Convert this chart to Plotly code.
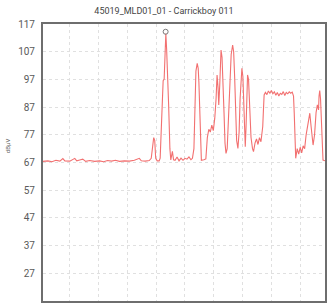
import plotly.graph_objects as go

# Trace samples (x = horizontal sample position, y = level in dBµV), 10 per row
sample_x = [
    0, 5, 9, 13, 17, 20, 22, 27, 32, 34,
    37, 40, 43, 47, 52, 57, 61, 65, 69, 73,
    77, 82, 87, 92, 97, 99, 103, 107, 109, 110.5,
    111.5, 112.5, 113.5, 115, 117, 118, 119, 120, 121, 122,
    122.8, 123.3, 123.7, 124.5, 125.5, 126.5, 127.8, 128.7, 130.3, 131.5,
    133, 135, 137, 139, 141, 143, 145, 147, 149, 150.5,
    152, 153, 154, 155.3, 156.3, 157, 157.8, 158.5, 159.5, 162,
    164, 165.5, 167, 168.5, 170, 171.5, 173, 174.3, 175.3, 176.3,
    177, 178, 178.8, 179.3, 180.3, 181.3, 182.3, 183.3, 184.3, 185.5,
    186.5, 187.5, 188.5, 189.5, 191, 192, 193, 194, 195, 196.3,
    197.5, 198.5, 199.5, 200.3, 201.3, 202.5, 203.7, 204.5, 205.3, 206,
    207, 208, 209.5, 211, 212, 213.5, 215, 216.5, 218, 219.5,
    220.5, 221.3, 222, 222.7, 224, 225.5, 227, 228.5, 230, 231.5,
    233, 234.5, 236, 237.5, 239, 240.5, 242, 243.5, 245, 246.5,
    248, 249.5, 251, 252.3, 253, 253.7, 254.5, 256, 257.5, 259,
    260.5, 262, 263.5, 265, 267, 268.7, 270, 272, 273.5, 275,
    276.3, 277.5, 278, 278.7, 279.5, 280.5, 281.5, 282, 284,
]
level_db = [
    67.4, 67.6, 67.3, 67.8, 67.5, 68.4, 67.6, 67.5, 68.5, 67.6,
    67.9, 68.2, 67.4, 67.7, 67.4, 67.6, 67.3, 67.7, 67.5, 67.8,
    67.4, 67.6, 67.5, 67.8, 68.5, 67.6, 67.5, 67.7, 68.5, 74,
    76, 75, 68.5, 67.6, 67.6, 68.6, 80, 92, 96.5, 97,
    103, 110, 113.6, 108, 100, 88, 72, 67.9, 71, 68,
    67.8, 69, 67.6, 68.6, 67.8, 68.5, 68.2, 69, 68, 68.5,
    72, 90, 100, 102.8, 101, 96, 86, 72, 67.8, 68,
    68.3, 76, 79, 78, 80.5, 78.5, 83, 90, 98.6, 94,
    87.8, 95, 104, 107.6, 105, 97, 85, 74, 70.3, 72,
    80, 90, 99, 106, 109.4, 107, 98, 86, 75, 72.1,
    78, 90, 99, 101, 98, 84, 72.7, 80, 93, 98.6,
    97, 88, 76, 72, 70.9, 74, 75.5, 73.5, 76, 74.5,
    77, 80, 86, 91.4, 92.3, 91.5, 92.8, 92, 93, 91.8,
    92.5, 91.3, 92.3, 91, 92, 91.6, 92.6, 91.2, 92.3, 91.8,
    92.5, 92, 92.4, 91, 85, 75, 68.5, 72, 70, 72.5,
    70.5, 73, 72, 77, 81, 84.8, 80, 73.3, 77, 85,
    87.8, 86, 91, 93, 90, 80, 70, 67.9, 67.6,
]

y_ticks = [17, 27, 37, 47, 57, 67, 77, 87, 97, 107, 117]
peak_x = [123.5]
peak_db = [114.2]

title_text = "45019_MLD01_01 - Carrickboy 011"
y_label = "dBµV"

fig_w, fig_h = 328, 305

fig = go.Figure()
fig.add_trace(go.Scatter(
    x=sample_x, y=level_db, mode="lines",
    line=dict(color="#f27070", width=1.1),
    hoverinfo="skip", showlegend=False))
fig.add_trace(go.Scatter(
    x=peak_x, y=peak_db, mode="markers",
    marker=dict(symbol="circle-open", size=5, color="#7a7a7a", line=dict(width=1)),
    showlegend=False))

fig.update_layout(
    width=fig_w, height=fig_h,
    margin=dict(l=43, r=1, t=24, b=4),
    paper_bgcolor="white", plot_bgcolor="white",
    font=dict(family="Roboto, Liberation Sans, sans-serif", color="#555555"),
    title=dict(text=title_text, x=164 / fig_w, xref="container", xanchor="center",
               y=1 - 11 / fig_h, yref="container", yanchor="middle",
               font=dict(size=9, color="#444444")),
    annotations=[dict(text=y_label, textangle=-90, x=(8 - 43) / 284, xref="paper",
                      y=0.56, yref="paper", showarrow=False,
                      font=dict(size=6, color="#666666"),
                      xanchor="center", yanchor="middle")],
)

fig.update_xaxes(
    range=[0, 284], showticklabels=False, ticks="",
    tick0=27, dtick=29,
    showgrid=True, gridcolor="#e0e0e0", griddash="dot", gridwidth=1,
    showline=True, linecolor="#6e6e6e", linewidth=2, mirror=True, zeroline=False)
fig.update_yaxes(
    range=[17, 117], tickvals=y_ticks, ticktext=[str(v) for v in y_ticks],
    tickfont=dict(size=10, color="#5a5a5a"), ticks="", ticklabelstandoff=4,
    showgrid=True, gridcolor="#e0e0e0", griddash="dot", gridwidth=1,
    showline=True, linecolor="#6e6e6e", linewidth=2, mirror=True, zeroline=False)

# Remove the browser's default 8px body margin so the figure sits at the page corner.
fig.write_html("out.html",
               config={"displayModeBar": False, "staticPlot": True},
               post_script="document.body.style.margin='0';document.body.style.overflow='hidden';")
